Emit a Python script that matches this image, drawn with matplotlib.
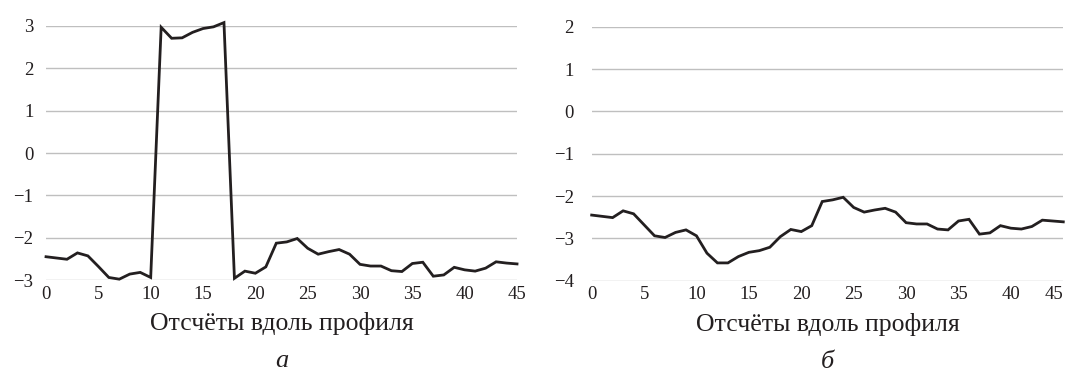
import matplotlib
matplotlib.use("Agg")
import matplotlib.pyplot as plt
import numpy as np

# --- Data ---
samples = list(range(46))

profile_a = [-2.45, -2.48, -2.51, -2.36, -2.43, -2.68, -2.94, -2.98, -2.86, -2.82,
             -2.94, 2.97, 2.71, 2.72, 2.85, 2.94, 2.98, 3.08, -2.96, -2.79,
             -2.84, -2.69, -2.13, -2.10, -2.02, -2.25, -2.39, -2.33, -2.28, -2.39,
             -2.63, -2.67, -2.67, -2.78, -2.80, -2.61, -2.58, -2.91, -2.88, -2.70,
             -2.76, -2.79, -2.72, -2.57, -2.60, -2.62]

profile_b = [-2.45, -2.48, -2.51, -2.35, -2.42, -2.68, -2.94, -2.98, -2.86, -2.80,
             -2.94, -3.35, -3.58, -3.58, -3.43, -3.33, -3.29, -3.21, -2.96, -2.79,
             -2.84, -2.70, -2.13, -2.09, -2.03, -2.27, -2.38, -2.33, -2.29, -2.38,
             -2.63, -2.66, -2.66, -2.78, -2.80, -2.59, -2.55, -2.90, -2.87, -2.70,
             -2.76, -2.78, -2.72, -2.57, -2.59, -2.61]

x_ticks = list(range(0, 46, 5))
y_ticks_a = [-3, -2, -1, 0, 1, 2, 3]
y_ticks_b = [-4, -3, -2, -1, 0, 1, 2]
xlabel = "Отсчёты вдоль профиля"
panel_labels = ["а", "б"]

# --- Style ---
plt.rcParams["font.family"] = ["Liberation Serif", "DejaVu Serif"]
plt.rcParams["axes.unicode_minus"] = True
INK = "#231f20"

fig = plt.figure(figsize=(10.68, 3.74), dpi=100)
ax_a = fig.add_axes([0.0431, 0.2513, 0.4410, 0.6792])
ax_b = fig.add_axes([0.5540, 0.2495, 0.4416, 0.6791])

panels = [
    (ax_a, profile_a, y_ticks_a, 9.0),
    (ax_b, profile_b, y_ticks_b, 13.0),
]

for (ax, values, yticks, ypad), letter in zip(panels, panel_labels):
    ax.plot(samples, values, color=INK, lw=2.0, solid_joinstyle="miter",
            zorder=3, clip_on=False)
    ax.set_xlim(0, 45)
    ax.set_ylim(yticks[0], yticks[-1])
    ax.set_xticks(x_ticks)
    ax.set_yticks(yticks)
    ax.grid(axis="y", color="#bfbfbf", lw=1.0, zorder=0)
    ax.grid(axis="x", visible=False)
    for s in ax.spines.values():
        s.set_visible(False)
    ax.tick_params(axis="y", length=0, pad=ypad, labelsize=13.5, colors=INK)
    ax.tick_params(axis="x", length=0, pad=4, labelsize=13.5, colors=INK)
    ax.set_xlabel(xlabel, fontsize=18.5, color=INK, labelpad=7)
    ax.text(0.5, -0.32, letter, transform=ax.transAxes, ha="center", va="center",
            fontsize=19, style="italic", color=INK)

# last tick label on the right panel sits inside the frame
ax_b.get_xticklabels()[-1].set_horizontalalignment("right")
ax_b.get_xticklabels()[-1].set_x(45)

fig.savefig("out.png", dpi=100)
